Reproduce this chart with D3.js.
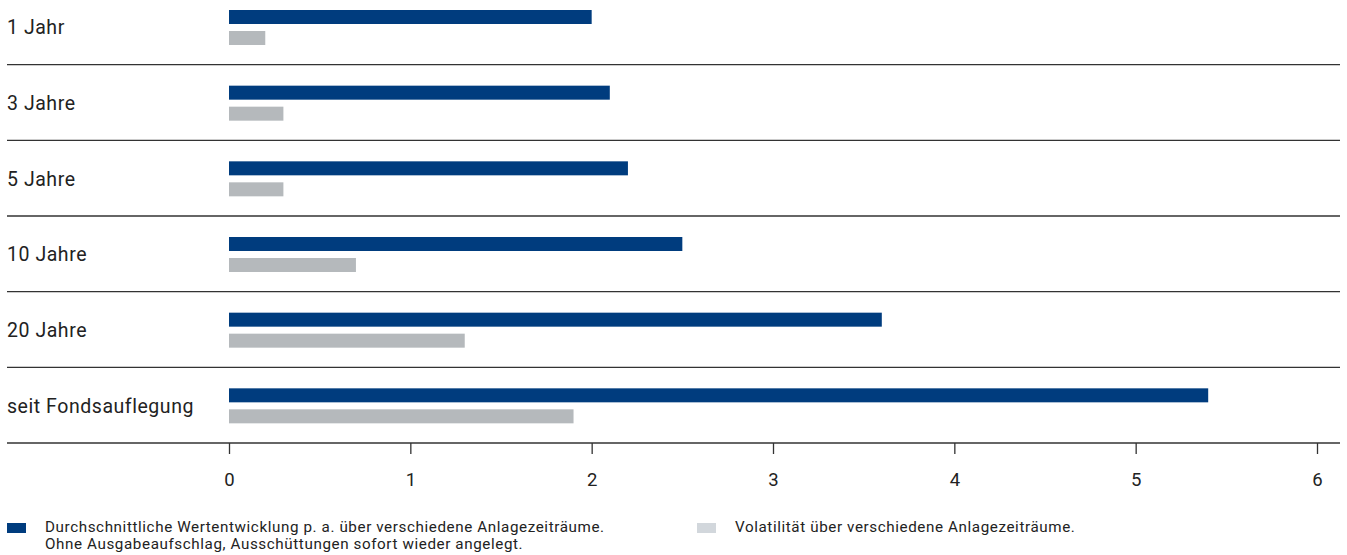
<!DOCTYPE html>
<html><head><meta charset="utf-8">
<script src="https://cdn.jsdelivr.net/npm/d3@7/dist/d3.min.js"></script>
<style>
html,body{margin:0;padding:0;background:#fff;}
svg{display:block;font-family:Roboto, "Liberation Sans", sans-serif;}
</style></head>
<body>
<svg id="chart" width="1347" height="555"></svg>
<script>
const categories = ["1 Jahr","3 Jahre","5 Jahre","10 Jahre","20 Jahre","seit Fondsauflegung"];
const performance = [2.0, 2.1, 2.2, 2.5, 3.6, 5.4];
const volatility  = [0.2, 0.3, 0.3, 0.7, 1.3, 1.9];
const tickValues = [0,1,2,3,4,5,6];
const legendLabels = [
  ["Durchschnittliche Wertentwicklung p. a. über verschiedene Anlagezeiträume.",
   "Ohne Ausgabeaufschlag, Ausschüttungen sofort wieder angelegt."],
  ["Volatilität über verschiedene Anlagezeiträume."]
];

const blue = "#003c7e", gray = "#b5b9bc", legendGray = "#d2d7dc", lineCol = "#333";
const svg = d3.select("#chart");

const x = d3.scaleLinear().domain([0,6]).range([229,1317]);
const y = d3.scaleBand().domain(categories).range([-11,443]).padding(0);
const bw = y.bandwidth();

// separator lines (bottom of each band)
svg.selectAll("line.sep").data(categories).join("line")
  .attr("class","sep")
  .attr("x1",7).attr("x2",1340)
  .attr("y1",d=>y(d)+bw).attr("y2",d=>y(d)+bw)
  .attr("stroke",lineCol).attr("stroke-width",1.3);

// labels
svg.selectAll("text.cat").data(categories).join("text")
  .attr("class","cat")
  .attr("x",7).attr("y",d=>y(d)+bw/2)
  .attr("dy","0.38em")
  .attr("font-size",19.5).attr("letter-spacing",0.55).attr("fill","#222")
  .text(d=>d);

// bars
svg.selectAll("rect.perf").data(categories).join("rect")
  .attr("class","perf")
  .attr("x",x(0)).attr("y",d=>y(d)+21)
  .attr("width",(d,i)=>x(performance[i])-x(0)).attr("height",14)
  .attr("fill",blue);
svg.selectAll("rect.vol").data(categories).join("rect")
  .attr("class","vol")
  .attr("x",x(0)).attr("y",d=>y(d)+42)
  .attr("width",(d,i)=>x(volatility[i])-x(0)).attr("height",14)
  .attr("fill",gray);

// axis
const axis = d3.axisBottom(x).tickValues(tickValues).tickSize(11).tickPadding(19).tickFormat(d3.format("d"));
const g = svg.append("g").attr("transform","translate(0,443)").call(axis);
g.select(".domain").remove();
g.selectAll(".tick line").attr("stroke",lineCol).attr("stroke-width",1.3);
g.selectAll(".tick text").attr("font-size",18.5).attr("fill","#222").attr("font-family","Roboto, 'Liberation Sans', sans-serif");

// legend
const legX = [7, 697];
const legColors = [blue, legendGray];
legendLabels.forEach((lines,i)=>{
  svg.append("rect").attr("x",legX[i]).attr("y",523).attr("width",19).attr("height",10).attr("fill",legColors[i]);
  const t = svg.append("text").attr("x",legX[i]+37).attr("y",532).attr("font-size",15.2).attr("letter-spacing",0.6).attr("fill","#222");
  lines.forEach((l,j)=>{
    t.append("tspan").attr("x",legX[i]+38).attr("dy",j===0?0:17).text(l);
  });
});
</script>
</body></html>
